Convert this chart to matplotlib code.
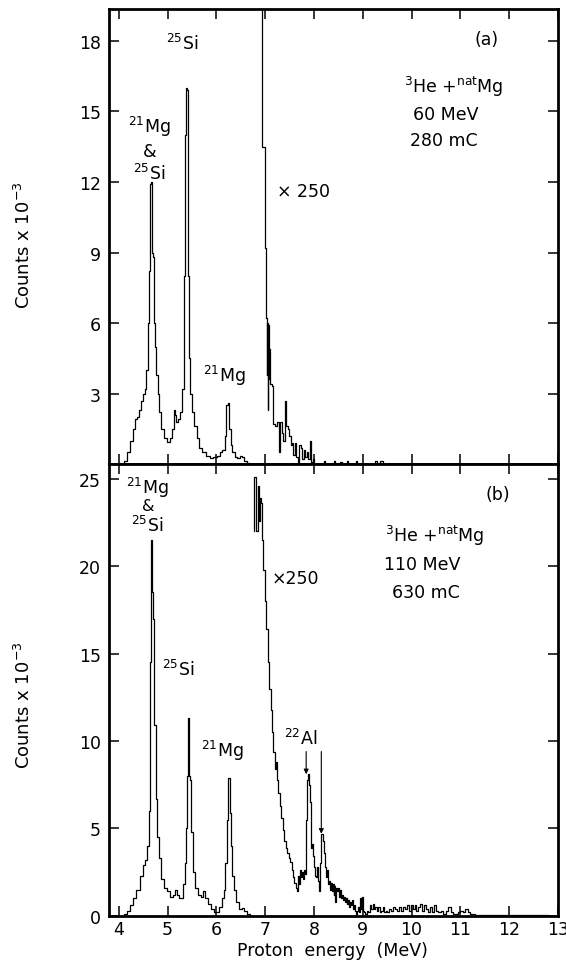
import matplotlib
matplotlib.use("Agg")
import matplotlib.pyplot as plt

# ---------------- data ----------------
# panel (a): 60 MeV, 280 mC  -- main spectrum (counts x 1e-3)
a_E = [4.08,4.14,4.20,4.26,4.31,4.36,4.40,4.44,4.48,4.52,4.55,4.58,4.61,4.63,4.65,4.67,4.69,4.71,4.73,4.75,
       4.78,4.81,4.85,4.90,4.96,5.02,5.07,5.11,5.14,5.16,5.19,5.23,5.28,5.32,5.35,5.37,5.39,5.41,5.43,5.45,
       5.48,5.52,5.57,5.62,5.68,5.75,5.82,5.90,5.98,6.05,6.10,6.15,6.19,6.22,6.25,6.28,6.31,6.35,6.40,6.46,
       6.52,6.55,6.59,6.65,6.72]
a_C = [0.0,0.15,0.5,1.0,1.5,1.9,2.0,2.3,2.7,3.0,3.2,4.0,6.0,8.2,11.9,12.0,9.0,8.8,6.0,5.0,
       3.8,3.0,2.2,1.5,1.1,0.95,1.1,1.5,2.3,2.1,1.8,1.9,2.2,3.2,8.0,14.0,16.0,15.9,8.0,4.5,
       3.0,2.2,1.6,1.1,0.7,0.5,0.35,0.25,0.3,0.35,0.5,0.6,1.2,2.5,2.6,1.5,0.8,0.5,0.3,0.25,
       0.35,0.3,0.15,0.05,0.0]
# panel (a): x250 part
a250_E = [6.88,6.93,6.99,7.02,7.03,7.04,7.05,7.06,7.07,7.08,7.10,7.13,7.17,7.21,7.25,7.28,7.31,7.34,7.37,7.40,
          7.43,7.46,7.49,7.52,7.55,7.58,7.61,7.64,7.67,7.70,7.73,7.76,7.79,7.82,7.85,7.88,7.91,7.94,7.97,8.00,
          8.20,8.23,8.41,8.44,8.54,8.57,8.67,8.70,8.86,8.89,9.25,9.29,9.36,9.42,9.50]
a250_C = [40.0,13.5,9.2,6.2,3.8,6.0,2.3,5.9,3.6,4.9,3.4,3.3,1.7,1.6,1.8,0.5,1.8,1.3,1.0,2.7,
          1.6,1.5,1.2,0.8,0.9,0.4,0.9,0.3,0.1,0.8,0.7,0.2,0.6,0.3,0.5,0.2,1.0,0.1,0.2,0.0,
          0.12,0.0,0.12,0.0,0.1,0.0,0.12,0.0,0.12,0.0,0.15,0.0,0.15,0.0,0.0]

# panel (b): 110 MeV, 630 mC -- main spectrum
b_E = [4.08,4.14,4.20,4.26,4.32,4.39,4.46,4.52,4.57,4.60,4.62,4.64,4.66,4.68,4.70,4.72,4.74,4.77,4.80,4.84,
       4.90,4.96,5.02,5.08,5.13,5.17,5.21,5.25,5.30,5.34,5.37,5.39,5.41,5.43,5.45,5.47,5.50,5.54,5.60,5.65,
       5.70,5.74,5.79,5.85,5.92,5.98,6.03,6.08,6.13,6.17,6.20,6.22,6.24,6.26,6.28,6.31,6.34,6.38,6.43,6.49,
       6.55,6.60,6.66,6.72]
b_C = [0.0,0.1,0.3,0.6,1.0,1.5,2.3,2.9,3.2,4.0,6.0,10.0,14.5,21.5,18.5,17.0,10.9,6.7,4.5,3.3,
       2.1,1.6,1.4,1.1,1.2,1.5,1.2,1.0,1.0,1.8,3.0,5.0,8.0,11.3,8.0,7.8,4.8,2.5,1.6,1.2,
       1.1,1.4,1.0,0.7,0.4,0.25,0.2,0.5,1.0,1.5,3.0,5.5,7.9,7.9,5.9,4.0,2.3,1.5,0.8,0.4,
       0.45,0.3,0.1,0.0]
# panel (b): x250 part
b250_E = [6.78,6.78,6.81,6.85,6.87,6.89,6.91,6.94,6.96,6.99,7.02,7.05,7.08,7.11,7.14,7.17,7.20,7.22,7.24,7.27,
          7.30,7.33,7.36,7.39,7.42,7.45,7.48,7.51,7.54,7.57,7.60,7.63,7.65,7.67,7.69,7.71,7.73,7.75,7.77,7.79,
          7.81,7.83,7.85,7.87,7.90,7.92,7.94,7.96,7.98,8.00,8.02,8.05,8.07,8.09,8.11,8.13,8.15,8.18,8.20,8.22,
          8.24,8.26,8.28,8.30,8.32,8.34,8.36,8.38,8.40,8.42,8.44,8.46,8.48,8.50,8.52,8.54,8.56,8.58,8.60,8.62,
          8.64,8.66,8.68,8.70,8.72,8.74,8.76,8.78,8.80,8.82,8.84,8.86,8.88,8.90,8.92,8.94,8.96,8.98,9.00,9.02,
          9.05,9.08,9.11,9.14,9.17,9.20,9.23,9.26,9.29,9.32,9.35,9.38,9.41,9.44,9.47,9.50,9.54,9.58,9.62,9.66,
          9.70,9.74,9.78,9.82,9.86,9.90,9.94,9.98,10.02,10.06,10.10,10.14,10.18,10.22,10.26,10.30,10.34,10.38,10.42,10.46,
          10.50,10.55,10.60,10.65,10.70,10.75,10.80,10.85,10.90,10.95,11.00,11.05,11.10,11.15,11.20,11.30,11.40,11.60,11.80,12.00,
          12.40,12.80]
b250_C = [22.0,25.1,22.0,24.6,22.6,23.9,23.6,21.5,19.8,18.0,16.4,14.5,13.0,11.8,10.5,9.4,8.4,8.8,7.8,7.0,
          6.3,5.6,4.9,4.3,3.9,3.6,3.3,3.1,2.6,2.2,1.9,1.6,1.4,2.3,1.8,2.6,2.2,2.5,2.1,2.6,
          2.4,5.5,7.8,8.1,7.5,6.5,3.9,4.1,3.4,2.8,2.3,2.2,2.8,2.0,1.4,3.0,4.7,4.3,3.6,2.8,
          2.2,2.6,1.8,2.0,1.5,1.9,1.4,1.8,1.2,1.7,0.8,1.6,1.4,1.6,1.1,1.5,1.0,1.2,0.9,1.1,
          0.8,1.0,0.7,0.9,0.5,0.8,0.6,0.9,0.4,0.6,0.3,0.1,0.3,0.5,0.2,1.0,0.4,1.1,0.3,0.2,
          0.1,0.3,0.2,0.6,0.4,0.7,0.4,0.5,0.3,0.5,0.2,0.3,0.5,0.2,0.3,0.2,0.4,0.3,0.5,0.4,
          0.3,0.5,0.3,0.5,0.4,0.6,0.3,0.6,0.4,0.6,0.3,0.5,0.7,0.3,0.6,0.4,0.2,0.5,0.2,0.6,
          0.3,0.2,0.3,0.1,0.3,0.5,0.2,0.1,0.1,0.2,0.3,0.2,0.4,0.2,0.1,0.05,0.05,0.05,0.05,0.05,
          0.05,0.05]

x_ticks = [4, 5, 6, 7, 8, 9, 10, 11, 12, 13]
a_yticks = [3, 6, 9, 12, 15, 18]
b_yticks = [0, 5, 10, 15, 20, 25]

# ---------------- figure ----------------
plt.rcParams['font.family'] = ['DejaVu Sans']
plt.rcParams['mathtext.fontset'] = 'dejavusans'
fig = plt.figure(figsize=(5.66, 9.62), dpi=100)
axA = fig.add_axes([0.1926, 0.5166, 0.7933, 0.4730])
axB = fig.add_axes([0.1926, 0.0468, 0.7933, 0.4698])

lw = 0.9
axA.step(a_E, a_C, where='mid', color='k', lw=lw)
axA.step(a250_E, a250_C, where='post', color='k', lw=lw)
axB.step(b_E, b_C, where='mid', color='k', lw=lw)
axB.step(b250_E, b250_C, where='post', color='k', lw=lw)

for ax in (axA, axB):
    ax.set_xlim(3.8, 12.98)
    ax.set_xticks(x_ticks)
    ax.tick_params(direction='in', length=7, width=1.1, top=True, right=True,
                   labelsize=12.5, pad=6)
    for s in ax.spines.values():
        s.set_linewidth(2.0)

axA.set_ylim(0, 19.36)
axA.set_yticks(a_yticks)
axA.tick_params(labelbottom=False)
axB.set_ylim(0, 25.83)
axB.set_yticks(b_yticks)
axB.tick_params(axis='x', pad=3)

fs = 12.5
react = r'$^{3}$He +$^{\mathrm{nat}}$Mg'
# panel (a) labels
axA.text(5.31, 17.9, r'$^{25}$Si', fontsize=fs, ha='center', va='center')
axA.text(4.63, 14.4, r'$^{21}$Mg', fontsize=fs, ha='center', va='center')
axA.text(4.63, 13.3, '&', fontsize=fs, ha='center', va='center')
axA.text(4.63, 12.4, r'$^{25}$Si', fontsize=fs, ha='center', va='center')
axA.text(6.17, 3.8, r'$^{21}$Mg', fontsize=fs, ha='center', va='center')
axA.text(7.78, 11.6, '× 250', fontsize=fs, ha='center', va='center')
axA.text(11.53, 18.1, '(a)', fontsize=fs, ha='center', va='center')
axA.text(10.87, 16.1, react, fontsize=fs, ha='center', va='center')
axA.text(10.69, 14.9, '60 MeV', fontsize=fs, ha='center', va='center')
axA.text(10.65, 13.8, '280 mC', fontsize=fs, ha='center', va='center')

# panel (b) labels
axB.text(4.58, 24.5, r'$^{21}$Mg', fontsize=fs, ha='center', va='center')
axB.text(4.60, 23.45, '&', fontsize=11.5, ha='center', va='center')
axB.text(4.58, 22.35, r'$^{25}$Si', fontsize=fs, ha='center', va='center')
axB.text(5.21, 14.1, r'$^{25}$Si', fontsize=fs, ha='center', va='center')
axB.text(6.13, 9.5, r'$^{21}$Mg', fontsize=fs, ha='center', va='center')
axB.text(7.62, 19.3, '×250', fontsize=fs, ha='center', va='center')
axB.text(11.77, 24.1, '(b)', fontsize=fs, ha='center', va='center')
axB.text(10.48, 21.8, react, fontsize=fs, ha='center', va='center')
axB.text(10.22, 20.1, '110 MeV', fontsize=fs, ha='center', va='center')
axB.text(10.30, 18.5, '630 mC', fontsize=fs, ha='center', va='center')
axB.text(7.72, 10.2, r'$^{22}$Al', fontsize=fs, ha='center', va='center')
for xe, y0, y1 in [(7.84, 9.4, 8.1), (8.15, 9.4, 4.7)]:
    axB.annotate('', xy=(xe, y1), xytext=(xe, y0),
                 arrowprops=dict(arrowstyle='-|>', lw=0.8, color='k', mutation_scale=7,
                                 shrinkA=0, shrinkB=0))

fig.text(24/566, 1-245/962, r'Counts x 10$^{-3}$', rotation=90, fontsize=13,
         ha='center', va='center')
fig.text(24/566, 1-705/962, r'Counts x 10$^{-3}$', rotation=90, fontsize=13,
         ha='center', va='center')
fig.text(332/566, 1-951/962, 'Proton  energy  (MeV)', fontsize=12.5, ha='center', va='center')

fig.savefig('out.png', dpi=100)
